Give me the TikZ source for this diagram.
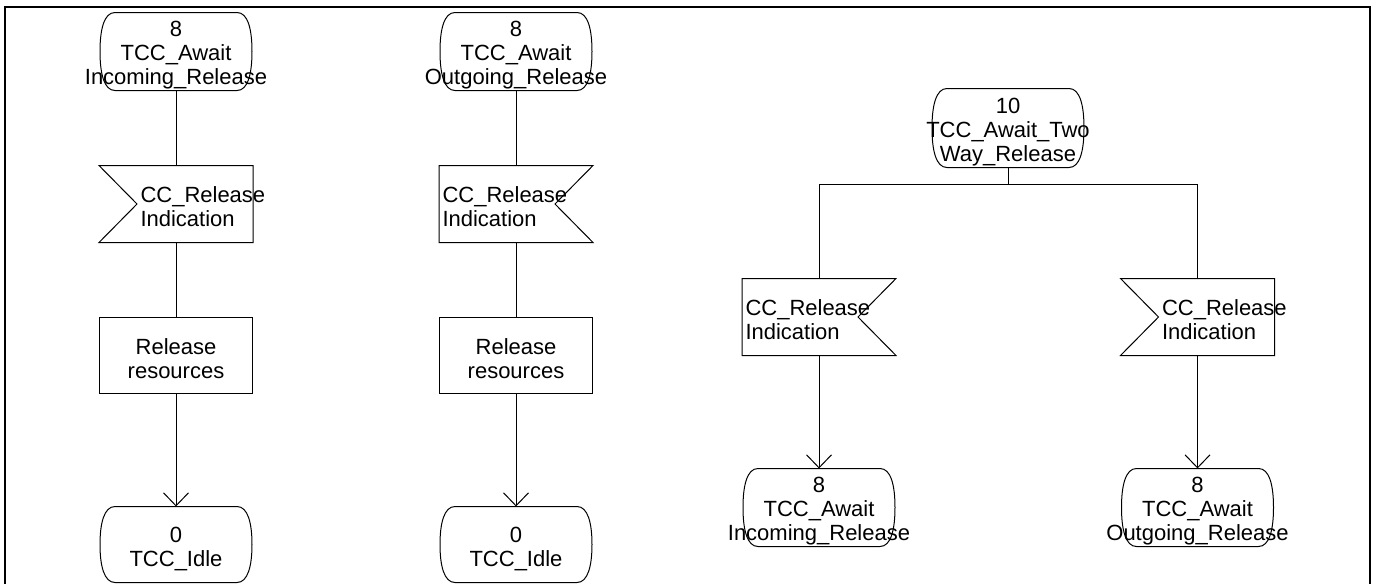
\documentclass[tikz,border=0pt]{standalone}
\usepackage{fontspec}
\setmainfont{Liberation Sans}
\usetikzlibrary{arrows.meta}
\newcommand\drawState[1]{%
  \draw ([xshift=15pt]#1.north west) -- ([xshift=-15pt]#1.north east)
    .. controls ([xshift=-4pt]#1.north east) and ([yshift=-17pt]#1.north east) .. (#1.east)
    .. controls ([yshift=17pt]#1.south east) and ([xshift=-4pt]#1.south east) .. ([xshift=-15pt]#1.south east)
    -- ([xshift=15pt]#1.south west)
    .. controls ([xshift=4pt]#1.south west) and ([yshift=17pt]#1.south west) .. (#1.west)
    .. controls ([yshift=-17pt]#1.north west) and ([xshift=4pt]#1.north west) .. cycle;}
\newcommand\drawSigL[1]{%
  \draw (#1.north west) -- (#1.north east) -- (#1.south east) -- (#1.south west) -- ([xshift=38pt]#1.west) -- cycle;}
\newcommand\drawSigR[1]{%
  \draw (#1.north west) -- (#1.north east) -- ([xshift=-38pt]#1.east) -- (#1.south east) -- (#1.south west) -- cycle;}
\begin{document}
\begin{tikzpicture}[x=1pt,y=-1pt,line width=1pt,
  statebox/.style={rectangle,inner sep=0pt,minimum width=151pt,minimum height=77pt},
  sigbox/.style={rectangle,inner sep=0pt,minimum width=153pt,minimum height=76pt},
  taskbox/.style={rectangle,draw,inner sep=0pt,minimum width=153pt,minimum height=76pt},
  txt/.style={inner sep=0pt,font=\fontsize{22}{24}\selectfont,align=center,yshift=-4pt},
  ltxt/.style={inner sep=0pt,font=\fontsize{22}{24}\selectfont,align=left,anchor=west,yshift=-3pt},
  arr/.style={-{Straight Barb[length=13pt,width=25pt]}}]
\useasboundingbox (0,0) rectangle (1377,584);
\draw[line width=2.5pt] (5,600) -- (5,7) -- (1370,7) -- (1370,600);

% column 1
\node[statebox] (s1) at (176,51.5) {};
\node[txt] (s1t) at (s1.center) {8\\TCC\_Await\\Incoming\_Release};
\node[sigbox] (g1) at (176,204) {};
\node[ltxt] (g1t) at ([xshift=41pt]g1.west) {CC\_Release\\Indication};
\node[taskbox] (t1) at (176,355) {};
\node[txt] (t1t) at (t1.center) {Release\\resources};
\node[statebox,minimum height=75pt] (e1) at (176,544.5) {};
\node[txt] (e1t) at (e1.center) {0\\TCC\_Idle};
\drawState{s1}\drawSigL{g1}\drawState{e1}
\draw (s1) -- (g1);
\draw (g1) -- (t1);
\draw[arr] (t1) -- (e1);

% column 2
\node[statebox] (s2) at (516,51.5) {};
\node[txt] (s2t) at (s2.center) {8\\TCC\_Await\\Outgoing\_Release};
\node[sigbox] (g2) at (516,204) {};
\node[ltxt] (g2t) at ([xshift=3pt]g2.west) {CC\_Release\\Indication};
\node[taskbox] (t2) at (516,355) {};
\node[txt] (t2t) at (t2.center) {Release\\resources};
\node[statebox,minimum height=75pt] (e2) at (516,544.5) {};
\node[txt] (e2t) at (e2.center) {0\\TCC\_Idle};
\drawState{s2}\drawSigR{g2}\drawState{e2}
\draw (s2) -- (g2);
\draw (g2) -- (t2);
\draw[arr] (t2) -- (e2);

% column 3
\node[statebox,minimum height=78pt] (s3) at (1008,128) {};
\node[txt] (s3t) at (s3.center) {10\\TCC\_Await\_Two\\Way\_Release};
\node[sigbox] (g3) at (819,317) {};
\node[ltxt] (g3t) at ([xshift=3pt]g3.west) {CC\_Release\\Indication};
\node[sigbox] (g4) at (1197.5,317) {};
\node[ltxt] (g4t) at ([xshift=41pt]g4.west) {CC\_Release\\Indication};
\node[statebox] (e3) at (819,507.5) {};
\node[txt] (e3t) at (e3.center) {8\\TCC\_Await\\Incoming\_Release};
\node[statebox] (e4) at (1197.5,507.5) {};
\node[txt] (e4t) at (e4.center) {8\\TCC\_Await\\Outgoing\_Release};
\drawState{s3}\drawSigR{g3}\drawSigL{g4}\drawState{e3}\drawState{e4}
\coordinate (jl) at (819,184);
\coordinate (jr) at (1197.5,184);
\draw (s3.south) -- (s3.south |- jl);
\draw (g3) -- (jl) -- (jr) -- (g4);
\draw[arr] (g3) -- (e3);
\draw[arr] (g4) -- (e4);
\end{tikzpicture}
\end{document}
